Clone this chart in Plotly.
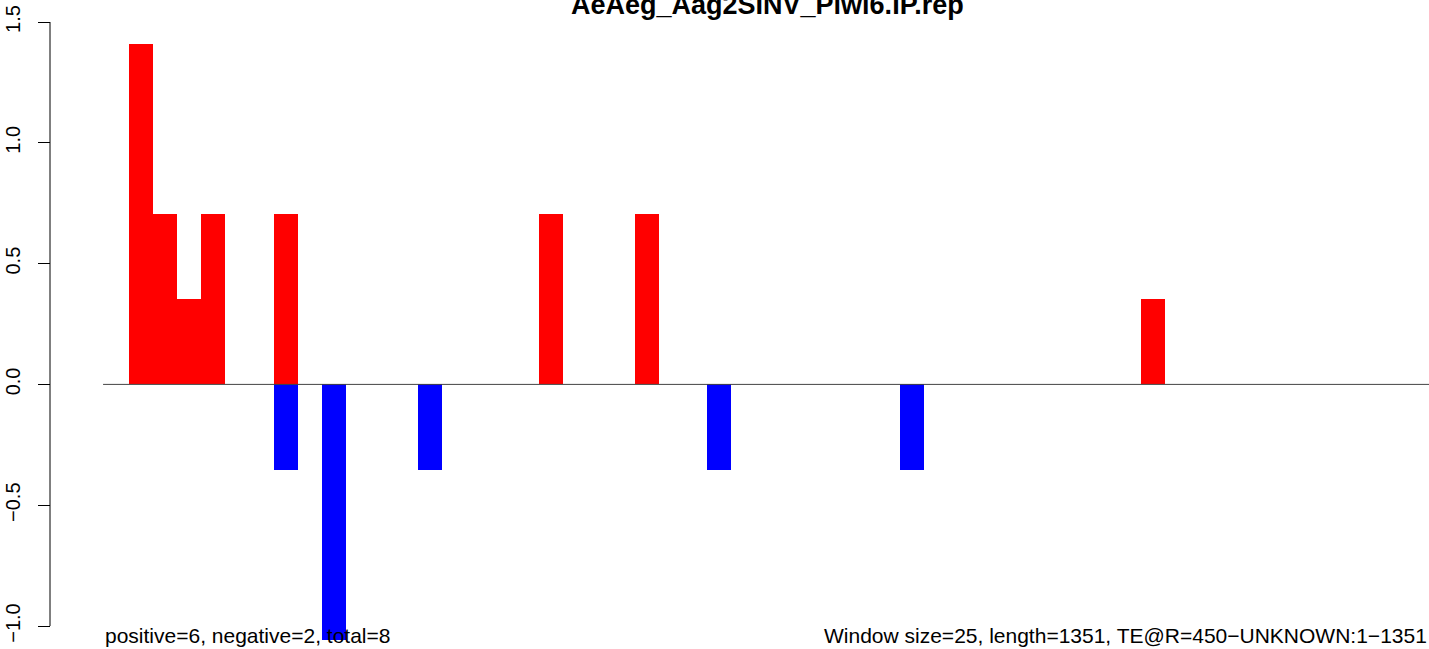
import plotly.graph_objects as go

title = "AeAeg_Aag2SINV_Piwi6.IP.rep"
n_windows = 55
pos_idx = [1, 2, 3, 4, 7, 18, 22, 43]
pos_val = [1.41, 0.705, 0.353, 0.705, 0.705, 0.705, 0.705, 0.353]
neg_idx = [7, 9, 13, 25, 33]
neg_val = [-0.353, -1.058, -0.353, -0.353, -0.353]
ytick_vals = [-1.0, -0.5, 0.0, 0.5, 1.0, 1.5]
ytick_text = ["\u22121.0", "\u22120.5", "0.0", "0.5", "1.0", "1.5"]
left_note = "positive=6, negative=2, total=8"
right_note = "Window size=25, length=1351, TE@R=450\u2212UNKNOWN:1\u22121351"

W, H = 1429, 649
FONT = "Liberation Sans, Arial, Helvetica, sans-serif"

fig = go.Figure()
fig.add_trace(go.Bar(x=[i + 0.5 for i in pos_idx], y=pos_val, width=1,
                     marker=dict(color="#FF0000", line=dict(width=0)),
                     showlegend=False, hoverinfo="skip"))
fig.add_trace(go.Bar(x=[i + 0.5 for i in neg_idx], y=neg_val, width=1,
                     marker=dict(color="#0000FF", line=dict(width=0)),
                     showlegend=False, hoverinfo="skip"))

# pixel mapping
px_per_slot = (1430 - 105) / n_windows
x0 = -105 / px_per_slot
x1 = x0 + W / px_per_slot
px_per_unit = (626 - 22) / 2.5
ytop = 1.5 + 22 / px_per_unit
ybot = -1.0 - (H - 626) / px_per_unit

axis_pos = 50 / W

fig.update_layout(
    width=W, height=H,
    margin=dict(l=0, r=0, t=0, b=0),
    paper_bgcolor="white", plot_bgcolor="white",
    barmode="overlay", bargap=0,
    font=dict(family=FONT, color="black"),
    xaxis=dict(visible=False, range=[x0, x1]),
    yaxis=dict(range=[ybot, ytop], anchor="free", position=axis_pos,
               showgrid=False, zeroline=False, showline=False,
               ticks="outside", ticklen=12, tickwidth=1, tickcolor="black",
               tickvals=ytick_vals, ticktext=ytick_text, tickangle=-90,
               tickfont=dict(size=20, family=FONT, color="black"),
               ticklabelstandoff=10),
    shapes=[
        dict(type="line", xref="paper", yref="y", x0=axis_pos, x1=axis_pos,
             y0=min(ytick_vals), y1=max(ytick_vals), line=dict(color="black", width=1)),
        dict(type="line", xref="x", yref="y", x0=-0.08, x1=n_windows, y0=0, y1=0,
             line=dict(color="#444444", width=1)),
    ],
    annotations=[
        dict(text="<b>" + title + "</b>", xref="paper", yref="paper",
             x=767 / W, y=1 - 5 / H, xanchor="center", yanchor="middle",
             showarrow=False, font=dict(size=27, family=FONT, color="black")),
        dict(text=left_note, xref="paper", yref="paper", x=103 / W, y=1 - 635 / H,
             xanchor="left", yanchor="middle", showarrow=False,
             font=dict(size=21, family=FONT, color="black")),
        dict(text=right_note, xref="paper", yref="paper", x=1, y=1 - 635 / H,
             xanchor="right", yanchor="middle", showarrow=False,
             font=dict(size=21, family=FONT, color="black")),
    ],
)

fig.write_html("out.html",
               config={"displayModeBar": False},
               post_script="document.body.style.margin='0';document.body.style.overflow='hidden';")
